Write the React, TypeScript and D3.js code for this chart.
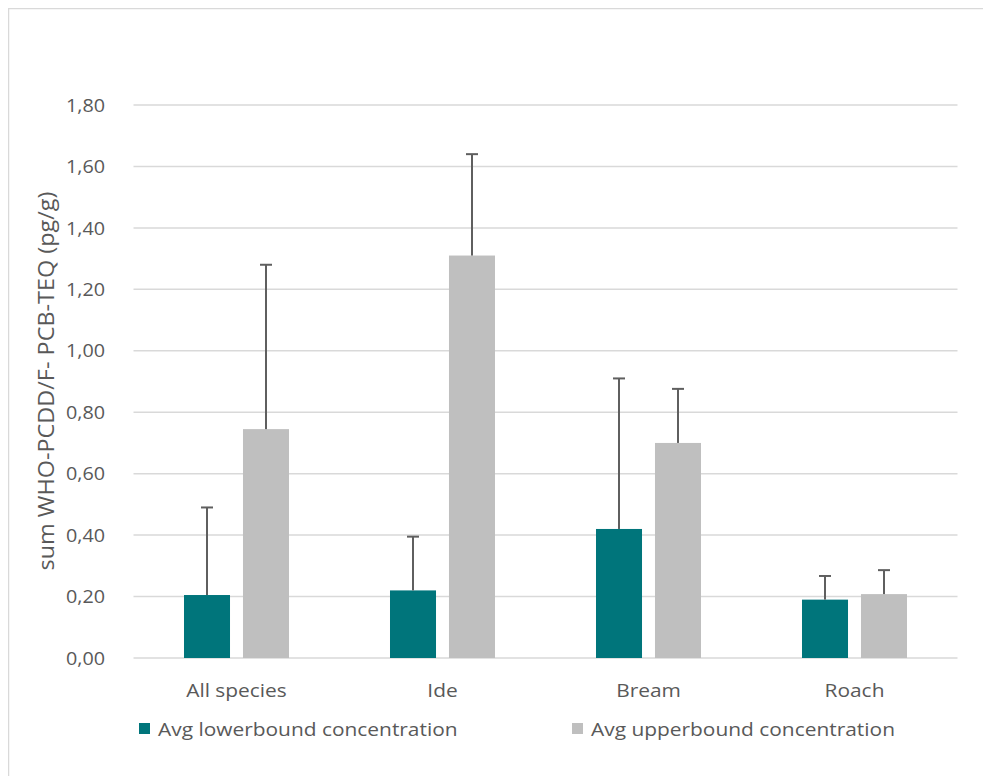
import React from "react";
import * as d3 from "d3";

const categories = ["All species", "Ide", "Bream", "Roach"];
const seriesNames = ["Avg lowerbound concentration", "Avg upperbound concentration"];
const lowerValues = [0.205, 0.22, 0.42, 0.19];
const lowerErrTop = [0.49, 0.395, 0.91, 0.267];
const upperValues = [0.745, 1.31, 0.70, 0.208];
const upperErrTop = [1.28, 1.64, 0.876, 0.286];
const yTicks = [0, 0.2, 0.4, 0.6, 0.8, 1.0, 1.2, 1.4, 1.6, 1.8];
const colors = ["#00757b", "#bfbfbf"];
const yTitle = "sum WHO-PCDD/F- PCB-TEQ (pg/g)";

const W = 991;
const H = 776;
const FONT = "'Open Sans', 'Noto Sans', sans-serif";
const TEXT = "#595959";
const SX = 1.1;

export default function App() {
  const x = d3.scaleBand<string>().domain(categories).range([133.5, 957.5]);
  const y = d3.scaleLinear().domain([0, 1.8]).range([658, 105]);
  const inner = d3
    .scaleBand<number>()
    .domain([0, 1])
    .range([0, x.bandwidth()])
    .paddingInner(0.22)
    .paddingOuter(0.856);
  const series = [
    { vals: lowerValues, err: lowerErrTop },
    { vals: upperValues, err: upperErrTop },
  ];
  const fmt = (v: number) => v.toFixed(2).replace(".", ",");
  return (
    <svg
      width={W - 8}
      height={H - 8}
      style={{ display: "block", overflow: "hidden" }}
    >
      <g transform="translate(-8,-8)">
        <rect x={0} y={0} width={W} height={H} fill="#ffffff" />
        <rect
          x={8.5}
          y={8.5}
          width={1200}
          height={1200}
          fill="none"
          stroke="#d9d9d9"
          strokeWidth={1.5}
        />
        {yTicks.map((t) => (
          <g key={t}>
            <line
              x1={133.5}
              x2={957.5}
              y1={y(t)}
              y2={y(t)}
              stroke="#d9d9d9"
              strokeWidth={1.5}
            />
            <text
              transform={`translate(105,${y(t)}) scale(1.04,1)`}
              dy="0.35em"
              textAnchor="end"
              fontFamily={FONT}
              fontSize={19}
              fill={TEXT}
            >
              {fmt(t)}
            </text>
          </g>
        ))}
        {categories.map((c, i) => (
          <g key={c}>
            {series.map((s, k) => {
              const bx = (x(c) as number) + (inner(k) as number);
              const bw = inner.bandwidth();
              const cx = bx + bw / 2;
              return (
                <g key={k}>
                  <rect
                    x={bx}
                    y={y(s.vals[i])}
                    width={bw}
                    height={y(0) - y(s.vals[i])}
                    fill={colors[k]}
                  />
                  <line
                    x1={cx}
                    x2={cx}
                    y1={y(s.vals[i])}
                    y2={y(s.err[i])}
                    stroke="#5f5f5f"
                    strokeWidth={2}
                  />
                  <line
                    x1={cx - 6}
                    x2={cx + 6}
                    y1={y(s.err[i])}
                    y2={y(s.err[i])}
                    stroke="#5f5f5f"
                    strokeWidth={2}
                  />
                </g>
              );
            })}
            <text
              transform={`translate(${(x(c) as number) + x.bandwidth() / 2},697) scale(${SX},1)`}
              textAnchor="middle"
              fontFamily={FONT}
              fontSize={19}
              fill={TEXT}
            >
              {c}
            </text>
          </g>
        ))}
        <text
          transform={`translate(54,381) rotate(-90) scale(1.09,1)`}
          textAnchor="middle"
          fontFamily={FONT}
          fontSize={21.5}
          fill={TEXT}
        >
          {yTitle}
        </text>
        {seriesNames.map((n, k) => {
          const lx = k === 0 ? 139 : 572;
          return (
            <g key={n}>
              <rect x={lx} y={723} width={11} height={11} fill={colors[k]} />
              <text
                transform={`translate(${lx + 19},729) scale(${SX},1)`}
                dy="0.35em"
                fontFamily={FONT}
                fontSize={19}
                fill={TEXT}
              >
                {n}
              </text>
            </g>
          );
        })}
      </g>
    </svg>
  );
}
